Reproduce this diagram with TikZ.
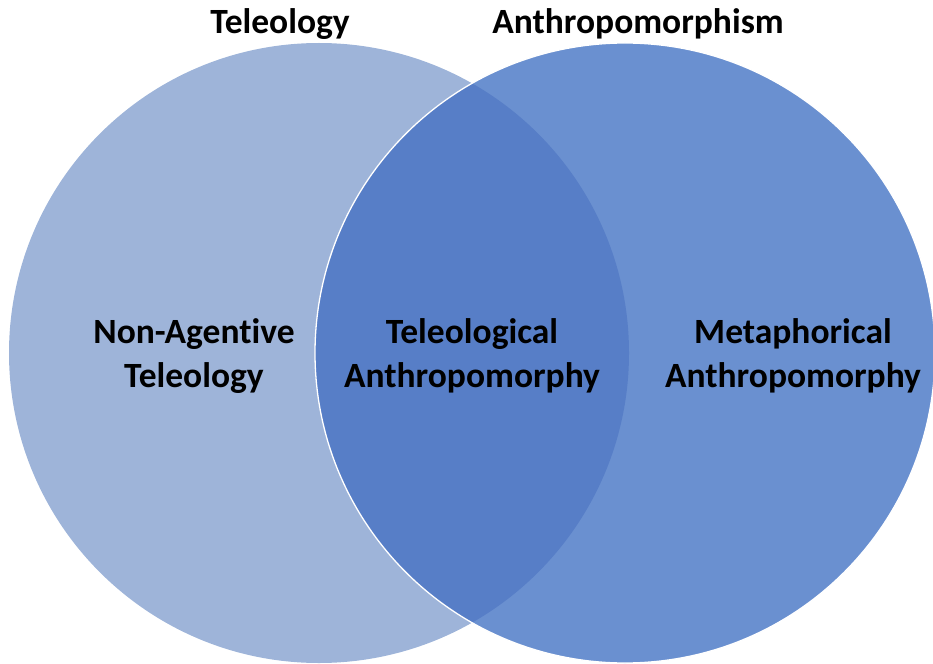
\documentclass[tikz,border=0pt]{standalone}
\usepackage{fontspec}
\setmainfont{Carlito}[Ligatures=NoCommon]
\usepackage{xcolor,tikz}
\usetikzlibrary{positioning}
\definecolor{teleocol}{RGB}{158,180,217}
\definecolor{anthrocol}{RGB}{106,144,208}
\definecolor{lenscol}{RGB}{87,126,199}
\tikzset{
  settext/.style={align=center, font=\fontsize{35.5}{44}\selectfont\bfseries, text=black, inner sep=0pt},
  titletext/.style={settext}
}

\begin{document}
\begin{tikzpicture}[x=1pt,y=-1pt]
\useasboundingbox (0,0) rectangle (933,663);
%%%% circles
\fill[teleocol] (319,353) circle[radius=310pt];
\fill[anthrocol] (625,353) circle[radius=310pt];
\begin{scope}
\clip (319,353) circle[radius=310pt];
\fill[lenscol] (625,353) circle[radius=310pt];
\end{scope}
\draw[white, line width=1.3pt] (625,353) circle[radius=310pt];
%%%% titles
\node[titletext] (teleology) at (280,24) {Teleology};
\node[titletext] (anthropo) at (638,24) {Anthropomorphism};
%%%% regions
\node[settext] (nonagent) at (194,356) {Non-Agentive\\Teleology};
\node[settext] (teleoanthro) at (472,356) {Teleological\\Anthropomorphy};
\node[settext] (metaphor) at (793,356) {Metaphorical\\Anthropomorphy};
\end{tikzpicture}
\end{document}
